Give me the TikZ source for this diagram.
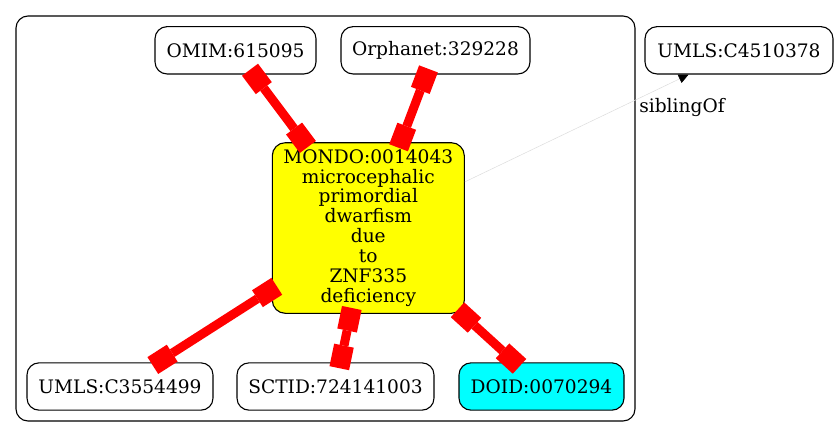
\documentclass[tikz,border=0pt]{standalone}
\usepackage{fontspec}
\setmainfont{DejaVu Serif}
\usetikzlibrary{arrows.meta}
\definecolor{gyellow}{RGB}{255,255,0}
\definecolor{gcyan}{RGB}{0,255,255}
\definecolor{gred}{RGB}{255,0,0}
\definecolor{glight}{RGB}{220,220,220}
\begin{document}
\begin{tikzpicture}[x=1pt,y=-1pt,
  every node/.style={font=\fontsize{18.6}{19.9}\selectfont},
  gnode/.style={draw, line width=1.1pt, rounded corners=12pt, fill=white, minimum height=47.3pt, inner sep=0pt, align=center},
  redge/.style={draw=gred, line width=9pt, shorten <=-6pt, shorten >=-6pt,
    {Square[length=23pt,width=20pt,line width=0pt]}-{Square[length=23pt,width=20pt,line width=0pt]}},
  sib/.style={draw=glight, line width=0.5pt, -{Triangle[length=10pt,width=9pt,color=black]}}]
\useasboundingbox (0,0) rectangle (837,437);
\draw[line width=1.1pt, rounded corners=12pt] (16,16) rectangle (635,421);
\node[gnode, minimum width=161pt] (omim) at (235.5,50.3) {OMIM:615095};
\node[gnode, minimum width=189pt] (orph) at (435.5,50.3) {Orphanet:329228};
\node[gnode, minimum width=188pt] (umlsa) at (739,50.3) {UMLS:C4510378};
\node[gnode, fill=gyellow, minimum width=192pt, minimum height=170.6pt, rounded corners=13pt] (mondo) at (368.3,228)
  {MONDO:0014043\\microcephalic\\primordial\\dwarfism\\due\\to\\ZNF335\\deficiency};
\node[gnode, minimum width=186pt] (umlsb) at (120,386.5) {UMLS:C3554499};
\node[gnode, minimum width=197pt] (sctid) at (335.5,386.5) {SCTID:724141003};
\node[gnode, fill=gcyan, minimum width=165pt] (doid) at (541.5,386.5) {DOID:0070294};
\draw[redge] (omim) -- (mondo);
\draw[redge] (orph) -- (mondo);
\draw[redge] (mondo) -- (umlsb);
\draw[redge] (mondo) -- (sctid);
\draw[redge] (mondo) -- (doid);
\draw[sib] (mondo) -- (umlsa);
\node (sl) at (682,107) {siblingOf};
\end{tikzpicture}
\end{document}
